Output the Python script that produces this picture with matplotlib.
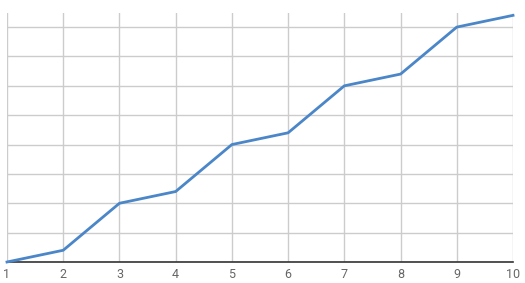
import matplotlib
matplotlib.use('Agg')
from matplotlib import pyplot as plt

x = [1, 2, 3, 4, 5, 6, 7, 8, 9, 10]
y = [0, 2, 10, 12, 20, 22, 30, 32, 40, 42]
yticks = [0, 5, 10, 15, 20, 25, 30, 35, 40]

plt.rcParams['font.family'] = ['Roboto', 'DejaVu Sans']

fig = plt.figure(figsize=(5.25, 2.83), dpi=100)
ax = fig.add_axes([7 / 525, 21 / 283, 506 / 525, 249 / 283])

ax.plot(x, y, color='#4a86c8', lw=2, solid_joinstyle='round', zorder=3, clip_on=False)

ax.set_xlim(1, 10)
ax.set_ylim(0, 42.4)
ax.set_xticks(x)
ax.set_yticks(yticks)
ax.set_yticklabels([])
ax.grid(True, color='#cccccc', lw=1)
ax.set_axisbelow(True)
ax.tick_params(axis='both', length=0)
ax.tick_params(axis='x', labelsize=9, labelcolor='#666666', pad=4)

for s in ['top', 'right', 'left']:
    ax.spines[s].set_visible(False)
ax.spines['bottom'].set_color('#333333')
ax.spines['bottom'].set_linewidth(1.2)

fig.savefig('out.png', dpi=100)
